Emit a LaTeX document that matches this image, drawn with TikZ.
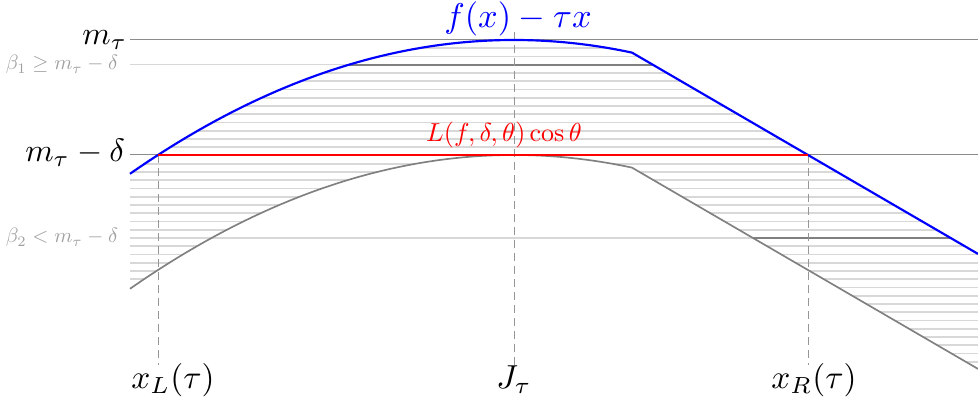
\documentclass[tikz,border=0pt]{standalone}
\usepackage{amsmath,amssymb}
\definecolor{hatchc}{RGB}{216,216,216}
\definecolor{midgray}{RGB}{128,128,128}
\definecolor{refgray}{RGB}{140,140,140}
\definecolor{lightlab}{RGB}{160,160,160}
\definecolor{dashc}{RGB}{150,150,150}
\begin{document}
\begin{tikzpicture}[x=0.3pt,y=-0.3pt,
  hatch/.style={draw=hatchc,line width=0.55pt},
  refline/.style={draw=refgray,line width=0.3pt},
  betaline/.style={draw=hatchc,line width=0.45pt},
  betadark/.style={draw=midgray,line width=0.6pt},
  guide/.style={draw=dashc,line width=0.3pt,dash pattern=on 2.4pt off 1.5pt},
  bluecurve/.style={draw=blue,line width=0.65pt},
  graycurve/.style={draw=midgray,line width=0.5pt},
  redline/.style={draw=red,line width=0.75pt},
  lab/.style={inner sep=0pt,outer sep=0pt},
  bigmath/.style={scale=0.97},
  smallmath/.style={scale=0.62,text=lightlab},
]
\useasboundingbox (0,0) rectangle (978,400);

% coordinates
\coordinate (mtL) at (130,40);  \coordinate (mtR) at (978,40);
\coordinate (mdL) at (130,155); \coordinate (mdR) at (978,155);
\coordinate (xLt) at (158,155); \coordinate (xLb) at (158,365);
\coordinate (Jt) at (514,32);   \coordinate (Jb) at (514,365);
\coordinate (xRt) at (808,155); \coordinate (xRb) at (808,365);
\coordinate (b1L) at (130,64.75); \coordinate (b1a) at (348.8,64.75); \coordinate (b1b) at (652.8,64.75);
\coordinate (b2L) at (130,238);   \coordinate (b2a) at (753,238);     \coordinate (b2b) at (950.7,238);
\coordinate (endB) at (978,253.9);
\coordinate (kinkG) at (632,167.63); \coordinate (endG) at (978,368.9);

% hatching between the curves
\begin{scope}
\clip plot[domain=130:632,samples=100] (\x,{40+9.074*((\x-514)/100)*((\x-514)/100)}) -- (endB) -- (endG) -- (kinkG)
  -- plot[domain=632:130,samples=100] (\x,{155+9.074*((\x-514)/100)*((\x-514)/100)}) -- cycle;
\foreach \k in {1,...,40}{\draw[hatch] (130,{40+8.25*\k}) -- (978,{40+8.25*\k});}
\end{scope}

% reference lines
\draw[refline] (mtL) -- (mtR);
\draw[refline] (mdL) -- (mdR);
\draw[betaline] (b1L) -- (b1a);
\draw[betadark] (b1a) -- (b1b);
\draw[betaline] (b2L) -- (b2a);
\draw[betadark] (b2a) -- (b2b);

% guides
\draw[guide] (xLt) -- (xLb);
\draw[guide] (Jt) -- (Jb);
\draw[guide] (xRt) -- (xRb);

% curves
\draw[graycurve] plot[domain=130:632,samples=100] (\x,{155+9.074*((\x-514)/100)*((\x-514)/100)}) -- (endG);
\draw[bluecurve] plot[domain=130:632,samples=100] (\x,{40+9.074*((\x-514)/100)*((\x-514)/100)}) -- (endB);
\draw[redline] (xLt) -- (xRt);

% labels
\node[lab,scale=1.03,text=blue,anchor=base] (ftitle) at (518,28) {$f(x)-\tau x$};
\node[lab,scale=0.78,text=red,anchor=base] (Llab) at (504,142) {$L(f,\delta,\theta)\cos\theta$};
\node[lab,bigmath,anchor=base east] (mtlab) at (127,45) {$m_\tau$};
\node[lab,bigmath,anchor=base east] (mdlab) at (125,162) {$m_\tau-\delta$};
\node[lab,smallmath,anchor=base east] (b1lab) at (118,70) {$\beta_1\geq m_\tau-\delta$};
\node[lab,smallmath,anchor=base east] (b2lab) at (118,243) {$\beta_2<m_\tau-\delta$};
\node[lab,anchor=base] (xLlab) at (173,389) {$x_L(\tau)$};
\node[lab,anchor=base] (Jlab) at (514,389) {$J_\tau$};
\node[lab,anchor=base] (xRlab) at (814,389) {$x_R(\tau)$};
\end{tikzpicture}
\end{document}
